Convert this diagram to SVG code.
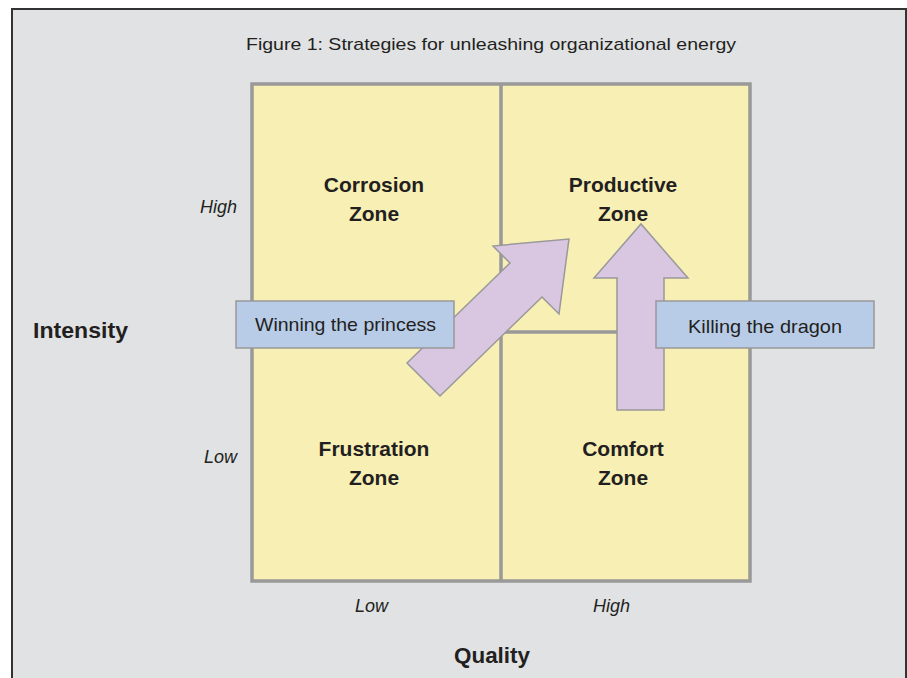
<svg xmlns="http://www.w3.org/2000/svg" width="907" height="678" viewBox="0 0 907 678">
  <style>
    .frame { fill: #e1e2e4; stroke: #333333; stroke-width: 2; }
    .title { font-family: "Liberation Sans", Arial, sans-serif; font-size: 17px; fill: #231f20; }
    .zone { font-family: "Liberation Sans", Arial, sans-serif; font-size: 21px; font-weight: bold; fill: #231f20; text-anchor: middle; }
    .axis { font-family: "Liberation Sans", Arial, sans-serif; font-size: 22px; font-weight: bold; fill: #231f20; }
    .tick { font-family: "Liberation Sans", Arial, sans-serif; font-size: 18px; font-style: italic; fill: #231f20; }
    .quad { fill: #f8efb5; stroke: #999999; stroke-width: 3.5; }
    .divider { stroke: #999999; stroke-width: 3.5; fill: none; }
    .arrow { fill: #d9c6e0; stroke: #999999; stroke-width: 1.5; stroke-linejoin: miter; }
    .box { fill: #b8cce8; stroke: #999999; stroke-width: 1.5; }
    .boxtext { font-family: "Liberation Sans", Arial, sans-serif; font-size: 19px; fill: #231f20; }
  </style>

  <!-- page frame -->
  <rect class="frame" x="12" y="9" width="894" height="690"/>

  <text class="title" x="246" y="50" textLength="490" lengthAdjust="spacingAndGlyphs">Figure 1:  Strategies for unleashing organizational energy</text>

  <!-- 2x2 grid -->
  <g id="grid">
    <rect class="quad" x="252" y="84" width="498" height="497"/>
    <line class="divider" x1="501" y1="84" x2="501" y2="581"/>
    <line class="divider" x1="501" y1="332" x2="750" y2="332"/>
  </g>

  <g id="corrosion">
    <text class="zone" x="374" y="192">Corrosion</text>
    <text class="zone" x="374" y="221">Zone</text>
  </g>
  <g id="productive">
    <text class="zone" x="623" y="192">Productive</text>
    <text class="zone" x="623" y="221">Zone</text>
  </g>
  <g id="frustration">
    <text class="zone" x="374" y="456">Frustration</text>
    <text class="zone" x="374" y="485">Zone</text>
  </g>
  <g id="comfort">
    <text class="zone" x="623" y="456">Comfort</text>
    <text class="zone" x="623" y="485">Zone</text>
  </g>

  <!-- axis labels -->
  <g id="axes">
    <text class="tick" x="200" y="213">High</text>
    <text class="tick" x="204" y="463">Low</text>
    <text class="tick" x="355" y="612">Low</text>
    <text class="tick" x="593" y="612">High</text>
    <text class="axis" x="33" y="338" textLength="95" lengthAdjust="spacingAndGlyphs">Intensity</text>
    <text class="axis" x="454" y="663" textLength="76" lengthAdjust="spacingAndGlyphs">Quality</text>
  </g>

  <!-- strategy arrows -->
  <g id="connectors">
    <polygon class="arrow" points="407,363 510,263 493,246 569,239 559,314 542,297 440,396"/>
    <polygon class="arrow" points="617,410 617,278 594,278 641,224 688,278 664,278 664,410"/>
  </g>

  <g id="winning">
    <rect class="box" x="236" y="301" width="218" height="47"/>
    <text class="boxtext" x="255" y="331" textLength="181" lengthAdjust="spacingAndGlyphs">Winning the princess</text>
  </g>
  <g id="killing">
    <rect class="box" x="656" y="301" width="218" height="47"/>
    <text class="boxtext" x="688" y="333" textLength="154" lengthAdjust="spacingAndGlyphs">Killing the dragon</text>
  </g>
</svg>
